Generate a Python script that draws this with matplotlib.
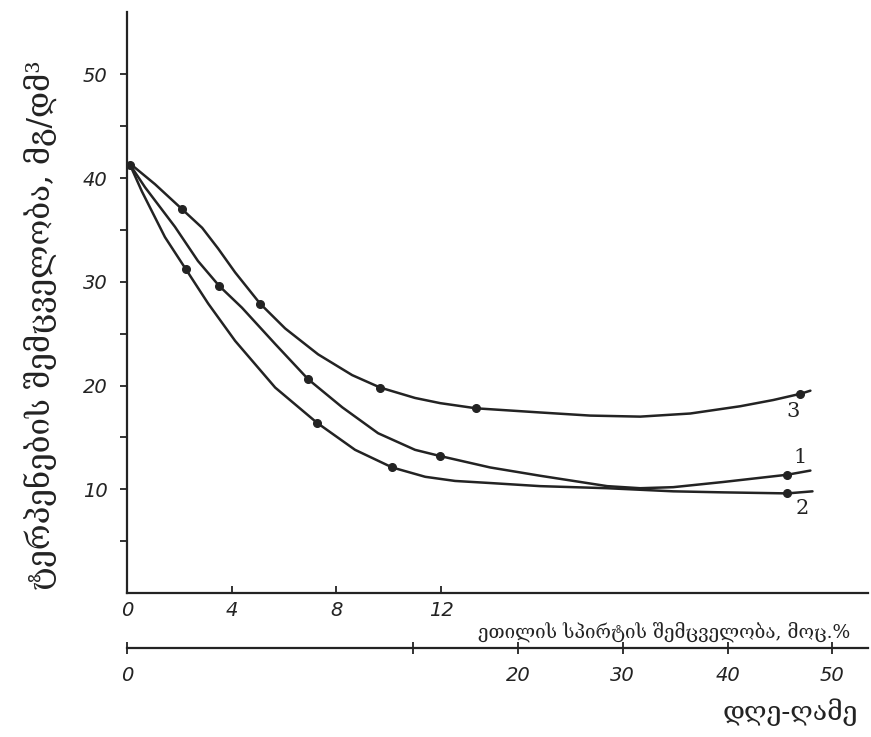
import numpy as np
import matplotlib
matplotlib.use("Agg")
from matplotlib import pyplot as plt

# curve paths (x = ethanol %, y = mg/dm3)
x1 = [0.11, 0.69, 1.83, 2.71, 3.52, 4.39, 5.66, 6.92, 8.22, 9.59, 11.0, 11.96,
      13.87, 15.78, 18.34, 19.6, 20.86, 22.77, 25.22, 26.1]
y1 = [41.3, 39.1, 35.3, 32.0, 29.6, 27.5, 24.0, 20.6, 17.9, 15.4, 13.8, 13.2,
      12.1, 11.3, 10.3, 10.1, 10.2, 10.7, 11.4, 11.8]
x2 = [0.11, 0.57, 1.45, 2.25, 3.1, 4.13, 5.66, 7.26, 8.71, 10.13, 11.39, 12.53,
      13.87, 15.78, 18.34, 20.86, 22.77, 25.22, 26.18]
y2 = [41.3, 38.7, 34.3, 31.2, 27.9, 24.3, 19.8, 16.4, 13.8, 12.1, 11.2, 10.8,
      10.6, 10.3, 10.1, 9.8, 9.7, 9.6, 9.8]
x3 = [0.11, 1.07, 2.1, 2.87, 3.48, 4.13, 5.08, 6.04, 7.3, 8.6, 9.67, 11.0,
      11.96, 13.34, 15.78, 17.69, 19.6, 21.51, 23.42, 24.68, 25.72, 26.1]
y3 = [41.4, 39.4, 37.0, 35.2, 33.2, 30.9, 27.9, 25.5, 23.0, 21.0, 19.8, 18.8,
      18.3, 17.8, 17.4, 17.1, 17.0, 17.3, 18.0, 18.6, 19.2, 19.5]

# measured points (markers)
mx1 = [0.11, 3.52, 6.92, 11.96, 25.22]
my1 = [41.3, 29.6, 20.6, 13.2, 11.4]
mx2 = [2.25, 7.26, 10.13, 25.22]
my2 = [31.2, 16.4, 12.1, 9.6]
mx3 = [2.1, 5.08, 9.67, 13.34, 25.72]
my3 = [37.0, 27.9, 19.8, 17.8, 19.2]

curve_names = ["1", "2", "3"]
name_x = [25.7, 25.8, 25.45]
name_y = [13.1, 8.1, 17.5]

eth_ticks = [0, 4, 8, 12]
day_ticks = [0, 10, 20, 30, 40, 50]
day_labels = ["0", "", "20", "30", "40", "50"]
y_major = [10, 20, 30, 40, 50]
y_minor = [5, 15, 25, 35, 45]

# where day 10 and day 50 fall on the ethanol scale (broken day scale)
X10, X50 = 10.93, 26.94

ink = "#232323"
geo = ["DejaVu Serif"]

fig = plt.figure(figsize=(8.71, 7.37), dpi=100)
ax = fig.add_axes([127 / 871, 144 / 737, 741 / 871, 581 / 737])
ax.set_xlim(0, 28.3)
ax.set_ylim(0, 56.0)

for xs, ys in [(x1, y1), (x2, y2), (x3, y3)]:
    ax.plot(xs, ys, color=ink, lw=1.8, solid_joinstyle="round",
            solid_capstyle="round")
for xs, ys in [(mx1, my1), (mx2, my2), (mx3, my3)]:
    ax.plot(xs, ys, "o", color=ink, ms=5.5, lw=0)

for name, tx, ty in zip(curve_names, name_x, name_y):
    ax.text(tx, ty, name, fontsize=15, family=geo, color=ink,
            ha="center", va="center")

for s in ["top", "right"]:
    ax.spines[s].set_visible(False)
for s in ["left", "bottom"]:
    ax.spines[s].set_color(ink)
    ax.spines[s].set_linewidth(1.6)

ax.set_yticks(y_major)
ax.set_yticks(y_minor, minor=True)
ax.set_xticks(eth_ticks)
ax.tick_params(axis="y", which="both", direction="out", length=5, width=1.3,
               color=ink, labelsize=14, pad=9, labelcolor=ink)
ax.tick_params(axis="x", direction="in", length=5, width=1.3, color=ink,
               labelsize=14, pad=6, labelcolor=ink)
for lab in ax.get_xticklabels() + ax.get_yticklabels():
    lab.set_fontstyle("italic")


def to_days(x):
    x = np.asarray(x, dtype=float)
    return np.where(x < X10, x * 10 / X10, 10 + (x - X10) * 40 / (X50 - X10))


def to_eth(d):
    d = np.asarray(d, dtype=float)
    return np.where(d < 10, d * X10 / 10, X10 + (d - 10) * (X50 - X10) / 40)


sec = ax.secondary_xaxis(-0.095, functions=(to_days, to_eth))
sec.spines["bottom"].set_color(ink)
sec.spines["bottom"].set_linewidth(1.6)
sec.set_xticks(day_ticks)
sec.set_xticklabels(day_labels)
sec.tick_params(direction="inout", length=9, width=1.3, color=ink,
                labelsize=14, pad=8, labelcolor=ink)
for lab in sec.get_xticklabels():
    lab.set_fontstyle("italic")

fig.text(850 / 871, 1 - 632 / 737, "ეთილის სპირტის შემცველობა, მოც.%",
         family=geo, fontsize=13.5, color=ink, ha="right", va="center")
fig.text(858 / 871, 1 - 712 / 737, "დღე-ღამე",
         family=geo, fontsize=19, color=ink, ha="right", va="center")
fig.text(40 / 871, 1 - 325 / 737, "ტერპენების შემცველობა, მგ/დმ³",
         family=geo, fontsize=22.5, color=ink, rotation=90,
         ha="center", va="center")

fig.savefig("out.png", dpi=100)
